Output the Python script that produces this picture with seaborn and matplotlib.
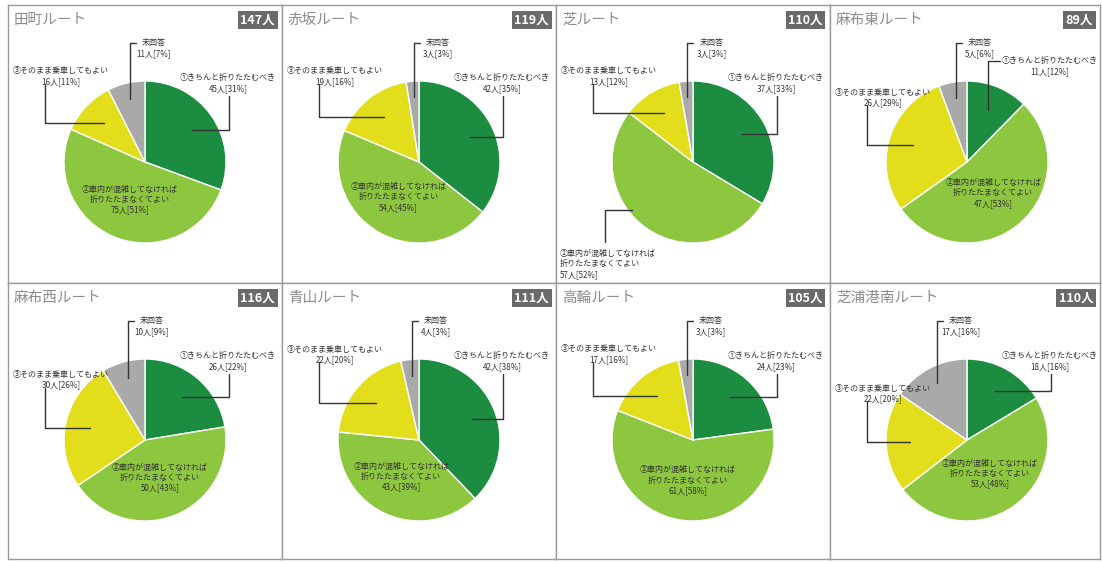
import numpy as np
import matplotlib
matplotlib.use("Agg")
import matplotlib.pyplot as plt
import seaborn as sns

sns.set_theme(style="white")
plt.rcParams['font.family'] = ['Noto Sans CJK JP', 'DejaVu Sans']

# データ
routes = ['田町ルート', '赤坂ルート', '芝ルート', '麻布東ルート',
          '麻布西ルート', '青山ルート', '高輪ルート', '芝浦港南ルート']
totals = [147, 119, 110, 89, 116, 111, 105, 110]
answers = ['①きちんと折りたたむべき',
           '②車内が混雑してなければ\n折りたたまなくてよい',
           '③そのまま乗車してもよい',
           '未回答']
ans1 = [45, 42, 37, 11, 26, 42, 24, 18]
ans2 = [75, 54, 57, 47, 50, 43, 61, 53]
ans3 = [16, 19, 13, 26, 30, 22, 17, 22]
ans_none = [11, 3, 3, 5, 10, 4, 3, 17]
pct1 = [31, 35, 33, 12, 22, 38, 23, 16]
pct2 = [51, 45, 52, 53, 43, 39, 58, 48]
pct3 = [11, 16, 12, 29, 26, 20, 16, 20]
pct_none = [7, 3, 3, 6, 9, 3, 3, 16]

colors = ['#1b8c40', '#8dc63f', '#e2de1c', '#a9a9a9']
line_c = '#333333'

W, H = 1102, 563
xs = [8, 282, 556, 830, 1100]
ys = [5, 283, 559]
R = 81
fs = 5.8

fig = plt.figure(figsize=(W / 100, H / 100), dpi=100)

for i, route in enumerate(routes):
    col, row = i % 4, i // 4
    x0, x1 = xs[col], xs[col + 1]
    y0, y1 = ys[row], ys[row + 1]
    w, h = x1 - x0, y1 - y0
    ax = fig.add_axes([x0 / W, 1 - y1 / H, w / W, h / H])
    cx, cy = 137, h - 157

    vals = [ans1[i], ans2[i], ans3[i], ans_none[i]]
    wedges, _ = ax.pie(vals, colors=colors, startangle=90, counterclock=False,
                       radius=R, center=(cx, cy), frame=True,
                       wedgeprops=dict(edgecolor='white', linewidth=1))
    ax.set_xlim(0, w)
    ax.set_ylim(0, h)
    ax.set_aspect('auto')
    ax.set_xticks([])
    ax.set_yticks([])
    for s in ax.spines.values():
        s.set_color('#9a9a9a')
        s.set_linewidth(1)

    # タイトルと人数
    ax.text(6, h - 15, route, fontsize=10.5, color='#8c8c8c', ha='left', va='center')
    ax.text(w - 7, h - 15, f'{totals[i]}人', fontsize=9, color='white', fontweight='bold',
            ha='right', va='center',
            bbox=dict(boxstyle='square,pad=0.2', fc='#6a6a6a', ec='none'))

    mids = [np.deg2rad((wd.theta1 + wd.theta2) / 2) for wd in wedges]
    spans = [wd.theta2 - wd.theta1 for wd in wedges]

    # ① きちんと折りたたむべき
    ax1_x = cx + 0.7 * R * np.cos(mids[0])
    ax1_y = cy + 0.7 * R * np.sin(mids[0])
    txt1 = f'{answers[0]}\n{ans1[i]}人[{pct1[i]}%]'
    if spans[0] < 50:
        top = cy + 101
        ax.plot([ax1_x, ax1_x, ax1_x + 12], [ax1_y, top, top], color=line_c, lw=1)
        ax.text(cx + 83, top - 5, txt1, fontsize=fs, color=line_c, ha='center', va='center')
    else:
        vx = cx + 84
        ax.plot([ax1_x, vx, vx], [ax1_y, ax1_y, cy + 66], color=line_c, lw=1)
        ax.text(cx + 83, cy + 79, txt1, fontsize=fs, color=line_c, ha='center', va='center')

    # ② 車内が混雑してなければ
    txt2 = f'{answers[1]}\n{ans2[i]}人[{pct2[i]}%]'
    if route == '芝ルート':
        ey = cy - 48
        ex = cx - np.sqrt(R ** 2 - 48 ** 2) + 4
        ax.plot([ex, cx - 88, cx - 88], [ey, ey, cy - 80], color=line_c, lw=1)
        ax.text(cx - 133, cy - 102, txt2, fontsize=fs, color=line_c, ha='left', va='center')
    else:
        tx = cx + 0.5 * R * np.cos(mids[1])
        ty = cy + 0.5 * R * np.sin(mids[1])
        ax.text(tx, ty, txt2, fontsize=fs, color=line_c, ha='center', va='center')

    # ③ そのまま乗車してもよい
    a3x = cx + 0.7 * R * np.cos(mids[2])
    a3y = cy + 0.7 * R * np.sin(mids[2])
    ly = min(a3y + 48, cy + 86)
    vx = cx - 100
    ax.plot([a3x, vx, vx], [a3y, a3y, ly - 8], color=line_c, lw=1)
    ax.text(cx - 84, ly, f'{answers[2]}\n{ans3[i]}人[{pct3[i]}%]', fontsize=fs,
            color=line_c, ha='center', va='center')

    # 未回答
    a4x = cx + 0.8 * R * np.cos(mids[3])
    a4y = cy + 0.8 * R * np.sin(mids[3])
    top = cy + 119
    ax.plot([a4x, a4x, a4x + 6], [a4y, top, top], color=line_c, lw=1)
    ax.text(a4x + 24, top - 5, f'{answers[3]}\n{ans_none[i]}人[{pct_none[i]}%]',
            fontsize=fs, color=line_c, ha='center', va='center')

fig.savefig('out.png', dpi=100, facecolor='white')
